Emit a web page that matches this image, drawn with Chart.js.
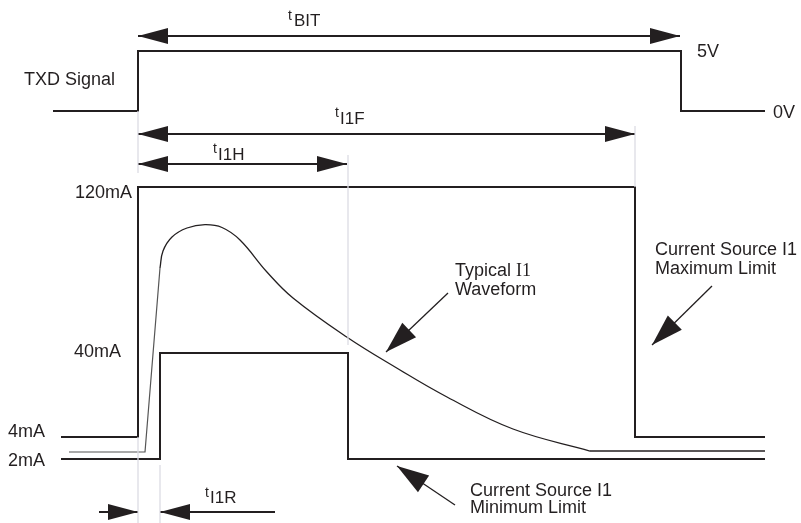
<!DOCTYPE html>
<html><head><meta charset="utf-8">
<script src="https://cdn.jsdelivr.net/npm/chart.js@4"></script>
<style>html,body{margin:0;padding:0;background:#fff}canvas{display:block}</style>
</head><body>
<canvas id="c" width="801" height="523"></canvas>
<script>
// ---- data (diagram units: x = time axis, y = schematic level axis) ----
const txdX = [53, 138, 138, 681, 681, 765];
const txdY = [111, 111, 51, 51, 111, 111];
const maxLimX = [61, 138, 138, 635, 635, 765];
const maxLimY = [437, 437, 187, 187, 437, 437];
const minLimX = [61, 160, 160, 348, 348, 765];
const minLimY = [459, 459, 353, 353, 459, 459];
const typRiseX = [69, 145, 160];
const typRiseY = [452, 452, 268];
const typCurveX = [160, 163, 172, 187, 205, 222, 240, 266.7, 293, 346.7, 396.7, 447, 513, 590];
const typCurveY = [268, 251, 237, 228, 224.7, 227.5, 240, 271.7, 298, 337, 368, 397, 429, 451];
const typTailX = [590, 765];
const typTailY = [451, 451];
const guideX = [138, 138, null, 138, 138, null, 160, 160, null, 348, 348, null, 635, 635];
const guideY = [111, 173, null, 437, 523, null, 465, 523, null, 155, 345, null, 126, 187];
const dimX = [138, 680, null, 138, 635, null, 138, 347, null, 99, 138, null, 160, 275];
const dimY = [36, 36, null, 134, 134, null, 164, 164, null, 512, 512, null, 512, 512];
const levelLabels = ['120mA', '40mA', '4mA', '2mA'];
const voltLabels = ['5V', '0V'];
const timingNames = ['BIT', 'I1F', 'I1H', 'I1R'];
const calloutText = [['Typical ', 'Waveform'], ['Current Source I1', 'Maximum Limit'], ['Current Source I1', 'Minimum Limit']];

// ---- layout of annotations (positions in diagram units) ----
const ink = '#231f20';
const guide = '#dcdce4';
const sans = "'Liberation Sans', Arial, Helvetica, sans-serif";
const serif = "'Liberation Serif', 'Times New Roman', serif";
const dimHeads = [
  [[138,36],[680,36]], [[680,36],[138,36]],
  [[138,134],[635,134]], [[635,134],[138,134]],
  [[138,164],[347,164]], [[347,164],[138,164]],
  [[138,512],[99,512]], [[160,512],[275,512]]
];
const callouts = [
  [[448,293],[386,352]],
  [[712,286],[652,345]],
  [[455,505],[397,466]]
];

const pts = (xs, ys) => xs.map((x, i) => ({x: x, y: ys[i]}));

function head(ctx, tip, from, len, hw) {
  const dx = tip[0]-from[0], dy = tip[1]-from[1];
  const d = Math.hypot(dx, dy), ux = dx/d, uy = dy/d;
  const bx = tip[0]-ux*len, by = tip[1]-uy*len;
  ctx.beginPath();
  ctx.moveTo(tip[0], tip[1]);
  ctx.lineTo(bx - uy*hw, by + ux*hw);
  ctx.lineTo(bx + uy*hw, by - ux*hw);
  ctx.closePath();
  ctx.fill();
}

const overlay = {
  id: 'overlay',
  afterDatasetsDraw(chart) {
    const ctx = chart.ctx, sx = chart.scales.x, sy = chart.scales.y;
    const P = p => [sx.getPixelForValue(p[0]), sy.getPixelForValue(p[1])];
    ctx.save();
    ctx.fillStyle = ink; ctx.strokeStyle = ink;
    dimHeads.forEach(h => head(ctx, P(h[0]), P(h[1]), 30, 8));
    // callout arrows
    ctx.lineWidth = 1.3;
    callouts.forEach(c => {
      const a = P(c[0]), b = P(c[1]);
      ctx.beginPath(); ctx.moveTo(a[0], a[1]); ctx.lineTo(b[0], b[1]); ctx.stroke();
      head(ctx, b, a, 32, 10);
    });
    // texts
    const txt = (s, x, y, size, align, font) => {
      const p = P([x, y]);
      ctx.font = size + 'px ' + (font || sans);
      ctx.textAlign = align || 'left';
      ctx.textBaseline = 'alphabetic';
      ctx.fillText(s, p[0], p[1]);
      return ctx.measureText(s).width;
    };
    const F = 18;
    txt('TXD Signal', 24, 85, F);
    txt(voltLabels[0], 697, 57, F);
    txt(voltLabels[1], 773, 118, F);
    txt(levelLabels[0], 132, 198, F, 'right');
    txt(levelLabels[1], 121, 357, F, 'right');
    txt(levelLabels[2], 8, 437, F);
    txt(levelLabels[3], 8, 466, F);
    // timing labels: small raised t + name
    const tpos = [[288, 19.5, 294, 25.5], [335, 117, 340, 124], [213, 153, 218, 159.5], [205, 497, 210, 503]];
    tpos.forEach((t, i) => {
      txt('t', t[0], t[1], 14);
      txt(timingNames[i], t[2], t[3], 17);
    });
    // callout texts
    const w = txt(calloutText[0][0], 455, 276, F);
    txt('I1', 455 + w, 276, F, 'left', serif);
    txt(calloutText[0][1], 455, 295, F);
    txt(calloutText[1][0], 655, 255, F);
    txt(calloutText[1][1], 655, 274, F);
    txt(calloutText[2][0], 470, 496, F);
    txt(calloutText[2][1], 470, 513, F);
    ctx.restore();
  }
};

const line = (data, color, width, extra) => Object.assign({
  data: data, showLine: true, borderColor: color, borderWidth: width,
  pointRadius: 0, fill: false, spanGaps: false, tension: 0
}, extra || {});

new Chart(document.getElementById('c'), {
  type: 'scatter',
  data: {
    datasets: [
      line(pts(guideX, guideY), guide, 1.3),
      line(pts(txdX, txdY), ink, 2),
      line(pts(maxLimX, maxLimY), ink, 2),
      line(pts(minLimX, minLimY), ink, 2),
      line(pts(typRiseX, typRiseY), '#555', 1.2),
      line(pts(typCurveX, typCurveY), ink, 1.3, {tension: 0.4}),
      line(pts(typTailX, typTailY), ink, 1.3),
      line(pts(dimX, dimY), ink, 2)
    ]
  },
  options: {
    responsive: false, animation: false, events: [],
    layout: {padding: 0},
    plugins: {legend: {display: false}, tooltip: {enabled: false}},
    scales: {
      x: {type: 'linear', display: false, min: 0, max: 801},
      y: {type: 'linear', display: false, min: 0, max: 523, reverse: true}
    }
  },
  plugins: [overlay]
});
</script>
</body></html>
